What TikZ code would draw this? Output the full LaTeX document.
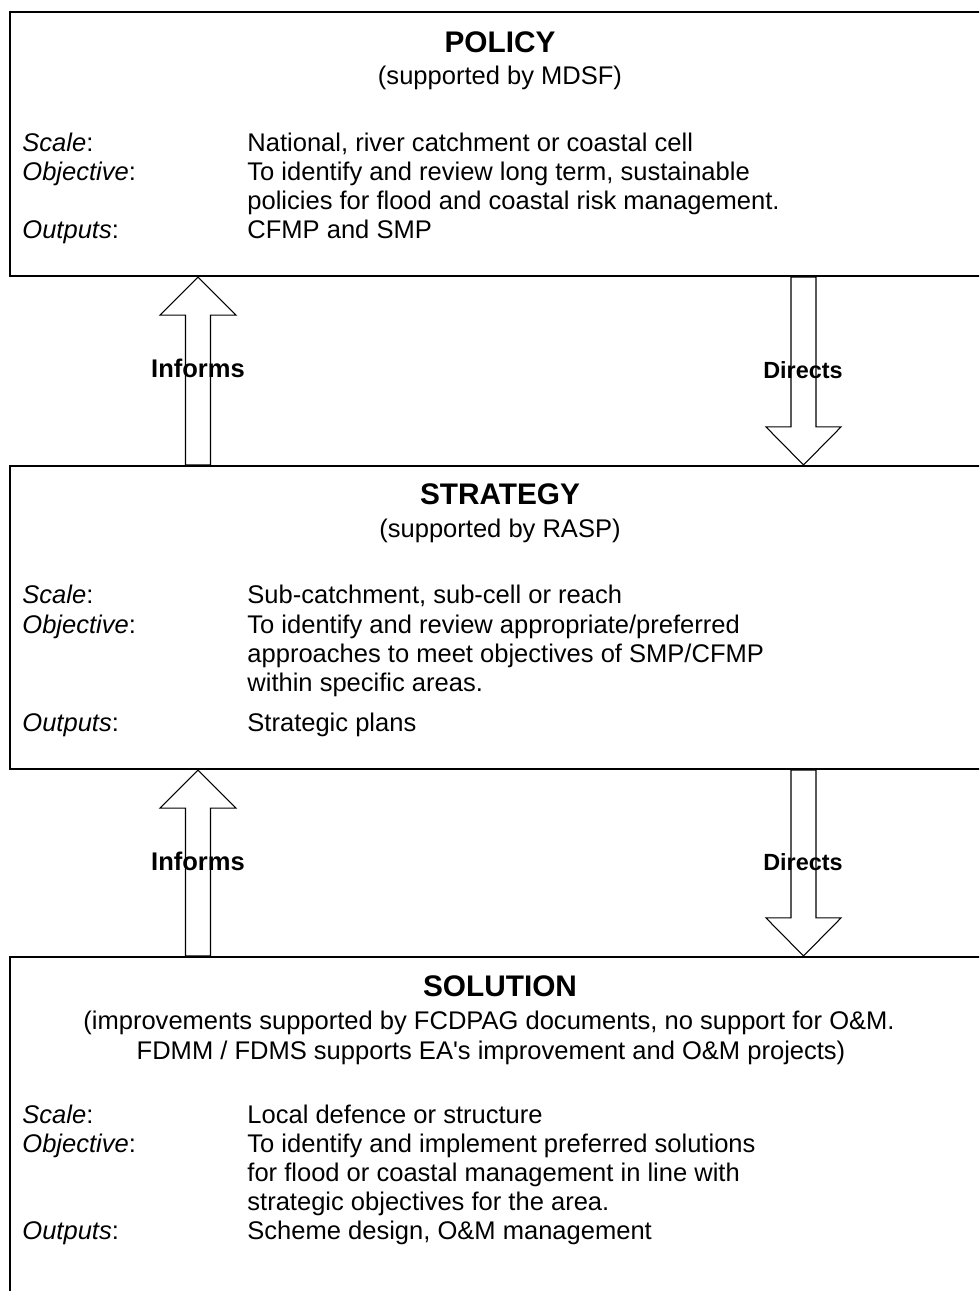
\documentclass[tikz,border=0pt]{standalone}
\usepackage{fontspec}
\setmainfont{Liberation Sans}
\usetikzlibrary{calc,fit}

% up block arrow: from the top of box #1 up to the bottom of box #2
\newcommand\blockup[2]{%
  \draw[blockarrow] (upx |- #2.south) -- ++(38,38) -- ++(-25.5,0)
    -- ($(upx |- #1.north)+(12.5,0)$) -- ++(-25,0)
    -- ($(upx |- #2.south)+(-12.5,38)$) -- ++(-25.5,0) -- cycle;}
% down block arrow: from the bottom of box #1 down to the top of box #2
\newcommand\blockdown[2]{%
  \draw[blockarrow] (downx |- #2.north) -- ++(37.5,-38) -- ++(-25,0)
    -- ($(downx |- #1.south)+(12.5,0)$) -- ++(-25,0)
    -- ($(downx |- #2.north)+(-12.5,-38)$) -- ++(-25,0) -- cycle;}

\begin{document}
\begin{tikzpicture}[x=0.47pt,y=-0.47pt,
  panel/.style={draw=black, line width=1pt, inner sep=0pt},
  blockarrow/.style={draw=black, line width=0.5pt, line join=miter},
  head/.style={font=\fontsize{14}{16}\selectfont\bfseries, anchor=base, inner sep=0pt},
  sub/.style={font=\fontsize{12}{13.8}\selectfont, anchor=base, inner sep=0pt},
  txt/.style={font=\fontsize{12}{13.8}\selectfont, anchor=base west, inner sep=0pt},
  informs/.style={font=\fontsize{12}{14}\selectfont\bfseries, anchor=base, inner sep=0pt},
  directs/.style={font=\fontsize{11}{13}\selectfont\bfseries, anchor=base, inner sep=0pt}]
\useasboundingbox (0,0) rectangle (979,1291);
\clip (0,0) rectangle (979,1291);
\fill[white] (0,0) rectangle (979,1291);

% the three level boxes
\node[panel, fit={(10,12) (995,276)}] (policy) {};
\node[panel, fit={(10,466) (995,769)}] (strategy) {};
\node[panel, fit={(10,957) (995,1310)}] (solution) {};

\coordinate (upx) at (198,0);
\coordinate (downx) at (803.5,0);

% block arrows between the levels
\blockup{strategy}{policy}
\blockdown{policy}{strategy}
\blockup{solution}{strategy}
\blockdown{strategy}{solution}

\node[informs] (inf1) at (198,378) {Informs};
\node[directs] (dir1) at (803,379) {Directs};
\node[informs] (inf2) at (198,870) {Informs};
\node[directs] (dir2) at (803,870) {Directs};

% policy level
\node[head] (ph) at (500,53) {POLICY};
\node[sub] (ps) at (500,85) {(supported by MDSF)};
\node[txt] (pl1) at (22,152) {\textit{Scale}:};
\node[txt] (pv1) at (247,152) {National, river catchment or coastal cell};
\node[txt] (pl2) at (22,181) {\textit{Objective}:};
\node[txt] (pv2) at (247,181) {To identify and review long term, sustainable};
\node[txt] (pv3) at (247,210) {policies for flood and coastal risk management.};
\node[txt] (pl3) at (22,239) {\textit{Outputs}:};
\node[txt] (pv4) at (247,239) {CFMP and SMP};

% strategy level
\node[head] (sh) at (500,504) {STRATEGY};
\node[sub] (ss) at (500,538) {(supported by RASP)};
\node[txt] (sl1) at (22,603) {\textit{Scale}:};
\node[txt] (sv1) at (247,603) {Sub-catchment, sub-cell or reach};
\node[txt] (sl2) at (22,633) {\textit{Objective}:};
\node[txt] (sv2) at (247,633) {To identify and review appropriate/preferred};
\node[txt] (sv3) at (247,662) {approaches to meet objectives of SMP/CFMP};
\node[txt] (sv4) at (247,691) {within specific areas.};
\node[txt] (sl3) at (22,731) {\textit{Outputs}:};
\node[txt] (sv5) at (247,731) {Strategic plans};

% solution level
\node[head] (oh) at (500,996) {SOLUTION};
\node[sub] (os1) at (489,1029) {(improvements supported by FCDPAG documents, no support for O\&M.};
\node[sub] (os2) at (491,1059) {FDMM / FDMS supports EA\textquotesingle s improvement and O\&M projects)};
\node[txt] (ol1) at (22,1123) {\textit{Scale}:};
\node[txt] (ov1) at (247,1123) {Local defence or structure};
\node[txt] (ol2) at (22,1152) {\textit{Objective}:};
\node[txt] (ov2) at (247,1152) {To identify and implement preferred solutions};
\node[txt] (ov3) at (247,1181) {for flood or coastal management in line with};
\node[txt] (ov4) at (247,1210) {strategic objectives for the area.};
\node[txt] (ol3) at (22,1239) {\textit{Outputs}:};
\node[txt] (ov5) at (247,1239) {Scheme design, O\&M management};
\end{tikzpicture}
\end{document}
